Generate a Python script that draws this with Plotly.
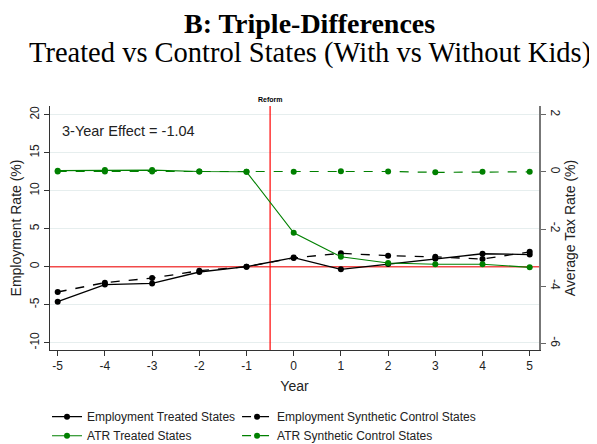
import plotly.graph_objects as go

years = [-5, -4, -3, -2, -1, 0, 1, 2, 3, 4, 5]
emp_treated = [-4.6, -2.35, -2.2, -0.7, 0.0, 1.2, -0.35, 0.36, 1.05, 1.7, 1.6]
emp_synth = [-3.33, -2.1, -1.5, -0.53, 0.0, 1.15, 1.76, 1.45, 1.3, 1.0, 1.95]
atr_treated = [0.04, 0.06, 0.06, 0.01, 0.0, -2.13, -2.97, -3.19, -3.23, -3.23, -3.34]
atr_synth = [0.01, 0.01, 0.01, 0.01, 0.0, 0.0, 0.02, 0.01, -0.02, 0.0, 0.0]
left_ticks = [-10, -5, 0, 5, 10, 15, 20]
right_ticks = [-6, -4, -2, 0, 2]
x_range = [-5.163, 5.197]
y_range = [-10.96, 21.14]
y2_range = [-6.23, 2.30]
reform_x = -0.5
zero_level = 0
effect_text = "3-Year Effect = -1.04"
title_text = "B: Triple-Differences"
subtitle_text = "Treated vs Control States (With vs Without Kids)"

def lab(v):
    return str(v)

# the page body adds an 8px offset, so the figure is 8px smaller than the window
W, H = 589, 436
L, T = 42, 98
PW, PH = 489.3, 244

def py(ypx):  # window pixel row -> paper y
    return (350 - ypx) / PH

fig = go.Figure()
# reference lines (drawn first so they sit under the data)
fig.add_trace(go.Scatter(x=x_range, y=[zero_level, zero_level], mode="lines",
                         line=dict(color="#f24a4a", width=1.5), showlegend=False,
                         hoverinfo="skip"))
fig.add_trace(go.Scatter(x=[reform_x, reform_x], y=y_range, mode="lines",
                         line=dict(color="red", width=1.2), showlegend=False,
                         hoverinfo="skip"))

fig.add_trace(go.Scatter(x=years, y=emp_treated, name="Employment Treated States",
                         mode="lines+markers", line=dict(color="black", width=1.3),
                         marker=dict(color="black", size=6), legend="legend"))
fig.add_trace(go.Scatter(x=years, y=emp_synth, name="Employment Synthetic Control States",
                         mode="lines+markers", line=dict(color="black", width=1.3, dash="dash"),
                         marker=dict(color="black", size=6), legend="legend2"))
fig.add_trace(go.Scatter(x=years, y=atr_treated, name="ATR Treated States", yaxis="y2",
                         mode="lines+markers", line=dict(color="#008000", width=1.1),
                         marker=dict(color="#008000", size=6), legend="legend"))
fig.add_trace(go.Scatter(x=years, y=atr_synth, name="ATR Synthetic Control States", yaxis="y2",
                         mode="lines+markers", line=dict(color="#008000", width=1.2, dash="dash"),
                         marker=dict(color="#008000", size=6), legend="legend2"))

fig.add_annotation(x=reform_x, y=1, xref="x", yref="paper", text="<b>Reform</b>",
                   showarrow=False, yanchor="bottom", yshift=1,
                   font=dict(family="Liberation Sans, Arial", size=7, color="black"))
fig.add_annotation(x=0.02, y=py(130.5), xref="paper", yref="paper", text=effect_text,
                   showarrow=False, xanchor="left", yanchor="middle",
                   font=dict(family="Liberation Sans, Arial", size=14.5, color="#222"))
xs = (310 - 8) - (L + PW / 2)
fig.add_annotation(x=0.5, xref="paper", xanchor="center", y=py(23), yref="paper",
                   yanchor="middle", text="<b>" + title_text + "</b>", showarrow=False,
                   xshift=xs, font=dict(family="Liberation Serif, serif", size=28, color="black"))
fig.add_annotation(x=0.5, xref="paper", xanchor="center", y=py(53), yref="paper",
                   yanchor="middle", text=subtitle_text, showarrow=False,
                   xshift=xs, font=dict(family="Liberation Serif, serif", size=28.5, color="black"))

fig.update_layout(
    width=W, height=H,
    paper_bgcolor="white", plot_bgcolor="white",
    margin=dict(l=L, r=W - L - PW, t=T, b=H - T - PH, autoexpand=False),
    font=dict(family="Liberation Sans, Arial", size=12, color="#222"),
    xaxis=dict(range=x_range, tickvals=years, ticktext=[lab(v) for v in years],
               ticks="outside", ticklen=5,
               tickcolor="#333", showline=True, linecolor="#333", linewidth=1,
               showgrid=False, zeroline=False, title=dict(text="Year", standoff=8),
               tickfont=dict(size=12)),
    yaxis=dict(range=y_range, tickvals=left_ticks, ticktext=[lab(v) for v in left_ticks],
               ticks="outside", ticklen=5,
               tickcolor="#333", showline=True, linecolor="#333", linewidth=1,
               showgrid=True, gridcolor="#e6eeee", gridwidth=1, zeroline=False,
               tickangle=-90, title=dict(text="Employment Rate (%)", standoff=4)),
    yaxis2=dict(range=y2_range, tickvals=right_ticks, ticktext=[lab(v) for v in right_ticks],
                ticks="outside", ticklen=5,
                tickcolor="#666", showline=True, linecolor="#777", linewidth=1.5,
                overlaying="y", side="right", showgrid=False, zeroline=False,
                tickangle=90, title=dict(text="Average Tax Rate (%)", standoff=4)),
    legend=dict(orientation="v", x=-0.0061, xanchor="left", y=-0.214, yanchor="top",
                tracegroupgap=0, bgcolor="rgba(0,0,0,0)",
                font=dict(size=12, color="#222")),
    legend2=dict(orientation="v", x=0.3825, xanchor="left", y=-0.214, yanchor="top",
                 tracegroupgap=0, bgcolor="rgba(0,0,0,0)",
                 font=dict(size=12, color="#222")),
    showlegend=True,
)

fig.write_html("out.html")
